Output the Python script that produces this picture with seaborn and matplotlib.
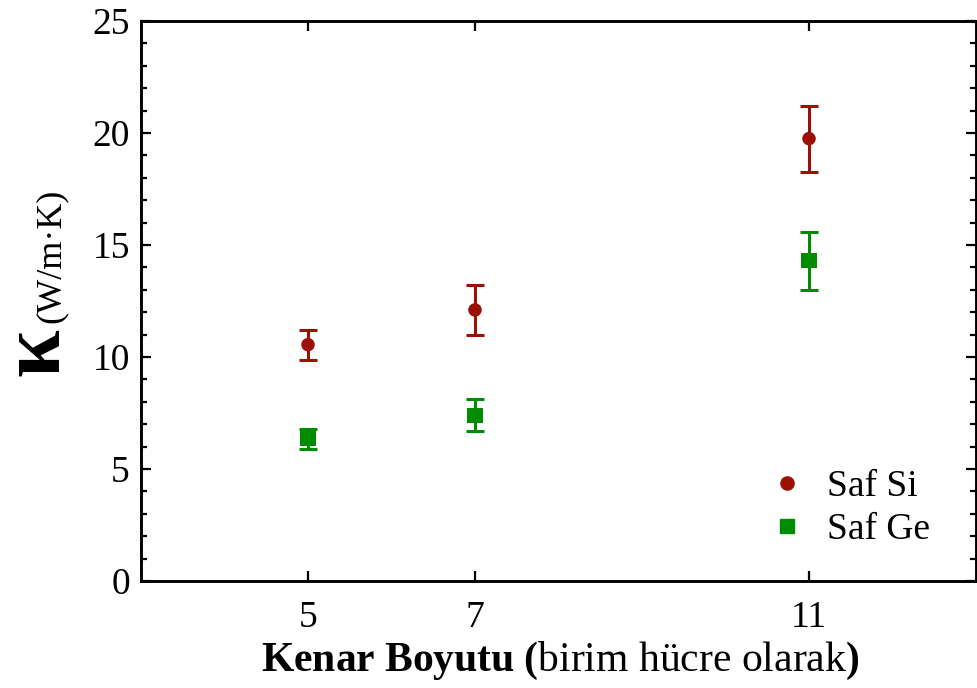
import matplotlib
matplotlib.use("Agg")
import matplotlib.pyplot as plt
from matplotlib.ticker import MultipleLocator, FixedLocator, NullLocator
from matplotlib.lines import Line2D
import pandas as pd
import seaborn as sns

# Edge length (in unit cells) and thermal conductivity with uncertainty
edge_sizes = [5, 7, 11]
kappa_si = [10.55, 12.1, 19.75]
err_si = [0.67, 1.1, 1.47]
kappa_ge = [6.35, 7.4, 14.3]
err_ge = [0.44, 0.71, 1.29]
series_names = ["Saf Si", "Saf Ge"]
y_ticks = [0, 5, 10, 15, 20, 25]

SI_COLOR = "#9B1106"
GE_COLOR = "#008C00"

sns.set_theme(style="ticks")
plt.rcParams["font.family"] = ["Liberation Serif", "DejaVu Serif"]
plt.rcParams["mathtext.fontset"] = "custom"
plt.rcParams["mathtext.rm"] = "Liberation Serif"
plt.rcParams["mathtext.bf"] = "Liberation Serif:bold"
plt.rcParams["mathtext.it"] = "Liberation Serif:italic"
for key in ["text.color", "axes.labelcolor", "xtick.color", "ytick.color",
            "axes.edgecolor"]:
    plt.rcParams[key] = "black"

df = pd.DataFrame({
    "size": edge_sizes * 2,
    "kappa": kappa_si + kappa_ge,
    "err": err_si + err_ge,
    "material": [series_names[0]] * 3 + [series_names[1]] * 3,
})

fig = plt.figure(figsize=(9.77, 6.88), dpi=100)
ax = fig.add_axes([141 / 977, 107 / 688, 835 / 977, 560 / 688])

palette = {series_names[0]: SI_COLOR, series_names[1]: GE_COLOR}
markers = {series_names[0]: "o", series_names[1]: "s"}
marker_area = {series_names[0]: 95, series_names[1]: 120}

for name, sub in df.groupby("material", sort=False):
    ax.errorbar(sub["size"], sub["kappa"], yerr=sub["err"], fmt="none",
                ecolor=palette[name], elinewidth=2.2, capsize=6.5,
                capthick=2.2, zorder=2)

sns.scatterplot(data=df, x="size", y="kappa", hue="material", style="material",
                size="material", sizes=marker_area,
                palette=palette, markers=markers, edgecolor="none",
                ax=ax, zorder=3, legend=False)

# legend
handles = [
    Line2D([], [], ls="none", marker="o", color=SI_COLOR, markersize=9.5),
    Line2D([], [], ls="none", marker="s", color=GE_COLOR, markersize=10),
]
ax.legend(handles, series_names, loc="lower right", frameon=False,
          fontsize=27, handletextpad=0.45, labelspacing=0.22,
          bbox_to_anchor=(0.985, 0.0), handlelength=1.2)

ax.set_xlim(3, 13)
ax.set_ylim(0, 25)
ax.xaxis.set_major_locator(FixedLocator(edge_sizes))
ax.xaxis.set_minor_locator(NullLocator())
ax.yaxis.set_major_locator(FixedLocator(y_ticks))
ax.yaxis.set_minor_locator(MultipleLocator(1))

for side in ["left", "right", "top", "bottom"]:
    ax.spines[side].set_visible(True)
    ax.spines[side].set_linewidth(2.1)
    ax.spines[side].set_color("black")

ax.tick_params(which="both", direction="in", top=True, right=True,
               color="black", width=1.6)
ax.tick_params(which="major", length=7, labelsize=27, pad=8)
ax.tick_params(axis="x", which="major", pad=14)
ax.tick_params(which="minor", length=4)

ax.set_xlabel("")
ax.set_ylabel("")

fig.text(0.5 * (263 + 858) / 977, 6 / 688,
         r"$\mathbf{Kenar\ Boyutu\ (}$birim hücre olarak$\mathbf{)}$",
         ha="center", va="bottom", fontsize=30)

fig.text(38 / 977, 1 - 352 / 688, "κ", rotation=90, ha="center", va="center",
         fontsize=62, fontweight="bold")
fig.text(51 / 977, 1 - 256 / 688, "(W/m·K)", rotation=90, ha="center",
         va="center", fontsize=26)

fig.savefig("out.png", dpi=100)
